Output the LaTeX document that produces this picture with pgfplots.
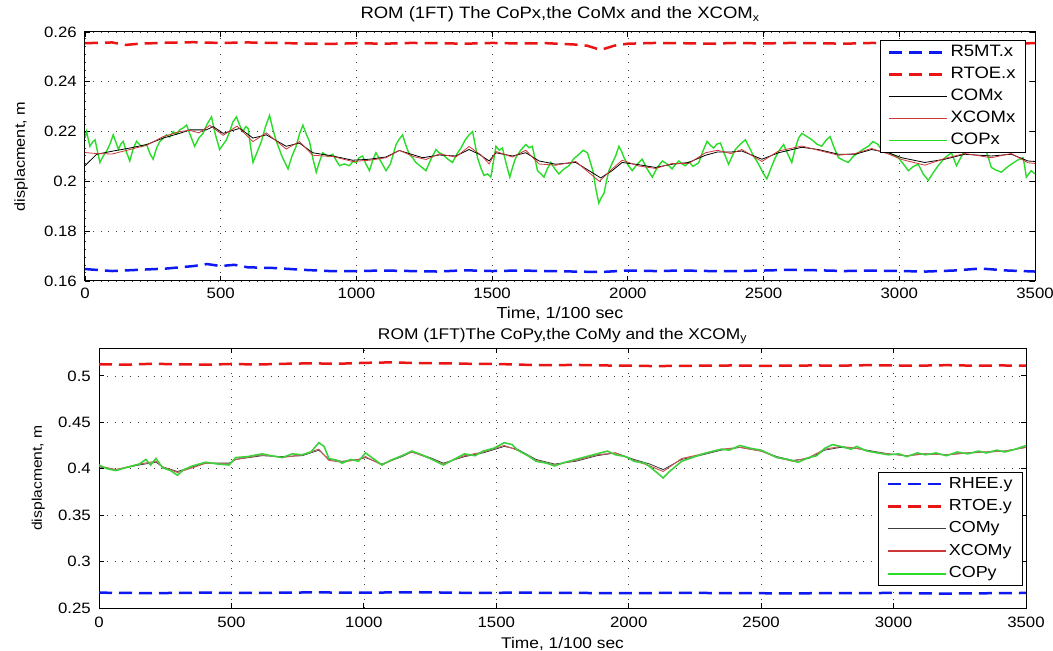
\documentclass[border=0pt]{standalone}
\usepackage{fontspec}
\setmainfont{Liberation Sans}[FakeStretch=1.12]
\usepackage{pgfplots}
\pgfplotsset{compat=1.18}
\definecolor{cRed}{rgb}{0.92,0.08,0.08}
\definecolor{cBlue}{rgb}{0.05,0.1,0.95}
\definecolor{cX}{rgb}{0.80,0.22,0.22}
\definecolor{cG}{RGB}{40,220,40}
\definecolor{cXl}{RGB}{200,90,90}
\definecolor{cGl}{RGB}{60,210,60}
\definecolor{cKl}{RGB}{60,60,60}
\pgfplotsset{
  mystyle/.style={
    scale only axis,
    axis line style={line width=1pt},
    xmin=0, xmax=3500,
    xtick={0,500,...,3500},
    scaled ticks=false,
    /pgf/number format/1000 sep={},
    /pgf/number format/assume math mode=true,
    grid=major,
    grid style={black!75, line width=0.7pt, dash pattern=on 0.8pt off 7pt},
    tick align=inside, tick pos=both,
    major tick length=5pt,
    tick style={black, line width=0.8pt},
    ticklabel style={font=\fontsize{15}{15}\selectfont},
    xticklabel style={anchor=base, inner sep=0pt, yshift=-18pt},
    yticklabel style={anchor=east, inner sep=0pt, xshift=-8pt},
    legend cell align=left,
    legend image code/.code={\draw[##1] (0pt,0pt) -- (58pt,0pt);},
  },
  dsh/.style={line width=2.5pt, dash pattern=on 13pt off 7pt},
}
\begin{document}
\begin{tikzpicture}
\useasboundingbox (0,0) rectangle (1053pt,651pt);
% ---------------- TOP ----------------
\begin{axis}[mystyle,
  at={(85pt,370pt)}, anchor=south west,
  width=950pt, height=249pt,
  ymin=0.16, ymax=0.26,
  ytick={0.16,0.18,...,0.26},
  yticklabel style={/pgf/number format/.cd, fixed, precision=2},
  title={ROM (1FT) The CoPx,the CoMx and the XCOM$_{\mbox{\fontsize{11}{11}\selectfont x}}$},
  title style={font=\fontsize{16.5}{16.5}\selectfont, at={(axis description cs:0.5,1)}, anchor=base, yshift=7pt, inner sep=0pt},
  xlabel={Time, 1/100 sec},
  xlabel style={font=\fontsize{16}{16}\selectfont, at={(axis description cs:0.5,0)}, anchor=base, yshift=-38pt, inner sep=0pt},
  ylabel={displacment, m},
  every axis y label/.style={font=\fontsize{14.5}{14.5}\selectfont, at={(axis description cs:0,0.5)}, rotate=90, anchor=base, yshift=60pt, inner sep=0pt},
  legend style={at={(axis description cs:1,1)}, anchor=north east, xshift=-9pt, yshift=-8pt,
    draw=black, line width=0.8pt, fill=white, inner xsep=8pt, inner ysep=2pt,
    font=\fontsize{16.5}{16.5}\selectfont, row sep=2pt,
    nodes={text height=12pt, text depth=4pt, inner sep=2pt}},
]
\addplot[cBlue, dsh, forget plot] coordinates {
(0,0.1648)(100,0.1640)(200,0.1645)(300,0.1650)(400,0.1660)(450,0.1668)(500,0.1660)(550,0.1665)(600,0.1655)(700,0.1652)(800,0.1645)(900,0.1640)(1000,0.1640)(1100,0.1642)(1200,0.1640)(1300,0.1638)(1400,0.1643)(1500,0.1640)(1600,0.1642)(1700,0.1640)(1800,0.1638)(1900,0.1636)(2000,0.1642)(2100,0.1640)(2200,0.1642)(2300,0.1640)(2400,0.1640)(2500,0.1642)(2600,0.1645)(2700,0.1643)(2800,0.1640)(2900,0.1642)(3000,0.1640)(3100,0.1638)(3200,0.1642)(3300,0.1650)(3400,0.1642)(3500,0.1638)};
\addplot[cRed, dsh, forget plot] coordinates {
(0,0.2555)(100,0.2558)(150,0.2548)(200,0.2553)(300,0.2557)(400,0.2559)(500,0.2556)(600,0.2558)(700,0.2556)(800,0.2554)(900,0.2552)(1000,0.2555)(1100,0.2553)(1200,0.2556)(1300,0.2555)(1400,0.2553)(1500,0.2556)(1600,0.2554)(1700,0.2555)(1800,0.2550)(1850,0.2545)(1900,0.2528)(1950,0.2545)(2000,0.2553)(2100,0.2556)(2200,0.2555)(2300,0.2553)(2400,0.2556)(2500,0.2554)(2600,0.2556)(2700,0.2555)(2800,0.2553)(2900,0.2556)(3000,0.2554)(3100,0.2555)(3200,0.2553)(3300,0.2556)(3400,0.2554)(3500,0.2555)};
\addplot[cG, line width=1.4pt, forget plot] coordinates {
(0,0.2174)(6,0.2200)(12,0.2170)(18,0.2141)(28,0.2158)(37,0.2167)(46,0.2120)(55,0.2076)(66,0.2100)(80,0.2122)(92,0.2150)(104,0.2187)(113,0.2160)(123,0.2128)(132,0.2150)(141,0.2161)(152,0.2120)(165,0.2082)(177,0.2130)(190,0.2161)(208,0.2140)(227,0.2148)(240,0.2110)(251,0.2089)(264,0.2135)(276,0.2161)(288,0.2172)(300,0.2187)(312,0.2178)(325,0.2200)(337,0.2190)(349,0.2207)(362,0.2215)(374,0.2226)(390,0.2180)(404,0.2141)(420,0.2175)(435,0.2193)(450,0.2230)(466,0.2259)(480,0.2190)(496,0.2128)(510,0.2150)(521,0.2167)(533,0.2200)(545,0.2239)(558,0.2259)(570,0.2225)(582,0.2200)(592,0.2220)(601,0.2213)(610,0.2140)(619,0.2076)(635,0.2120)(650,0.2161)(665,0.2220)(680,0.2265)(692,0.2210)(705,0.2161)(726,0.2100)(748,0.2050)(762,0.2100)(778,0.2141)(790,0.2190)(803,0.2226)(815,0.2190)(827,0.2161)(840,0.2090)(852,0.2037)(864,0.2080)(876,0.2115)(895,0.2100)(913,0.2109)(925,0.2085)(938,0.2063)(955,0.2070)(974,0.2063)(987,0.2080)(999,0.2076)(1010,0.2095)(1023,0.2102)(1035,0.2070)(1048,0.2043)(1060,0.2085)(1072,0.2115)(1090,0.2080)(1109,0.2043)(1125,0.2070)(1136,0.2110)(1146,0.2148)(1158,0.2170)(1170,0.2187)(1182,0.2145)(1195,0.2109)(1207,0.2095)(1219,0.2076)(1237,0.2060)(1256,0.2043)(1275,0.2090)(1293,0.2128)(1305,0.2115)(1317,0.2109)(1336,0.2090)(1354,0.2076)(1370,0.2110)(1385,0.2134)(1400,0.2165)(1415,0.2187)(1428,0.2200)(1437,0.2150)(1446,0.2095)(1458,0.2055)(1470,0.2024)(1483,0.2030)(1495,0.2017)(1505,0.2080)(1514,0.2141)(1526,0.2125)(1538,0.2134)(1552,0.2070)(1565,0.2017)(1576,0.2060)(1587,0.2095)(1605,0.2125)(1624,0.2148)(1636,0.2135)(1648,0.2141)(1658,0.2090)(1667,0.2043)(1680,0.2030)(1691,0.2017)(1703,0.2050)(1716,0.2076)(1731,0.2050)(1746,0.2030)(1765,0.2050)(1783,0.2063)(1800,0.2090)(1820,0.2109)(1835,0.2125)(1851,0.2115)(1861,0.2080)(1871,0.2043)(1882,0.1970)(1893,0.1913)(1902,0.1935)(1912,0.1952)(1921,0.2000)(1930,0.2043)(1943,0.2075)(1955,0.2102)(1967,0.2141)(1977,0.2120)(1986,0.2095)(2001,0.2065)(2016,0.2043)(2035,0.2070)(2053,0.2089)(2071,0.2050)(2090,0.2017)(2108,0.2055)(2127,0.2082)(2145,0.2070)(2163,0.2050)(2175,0.2068)(2188,0.2082)(2200,0.2070)(2212,0.2063)(2226,0.2078)(2240,0.2060)(2261,0.2075)(2276,0.2120)(2292,0.2161)(2304,0.2145)(2316,0.2134)(2328,0.2150)(2341,0.2154)(2356,0.2110)(2371,0.2069)(2384,0.2100)(2396,0.2128)(2415,0.2150)(2433,0.2167)(2448,0.2135)(2463,0.2102)(2476,0.2080)(2488,0.2056)(2500,0.2030)(2512,0.2010)(2528,0.2055)(2543,0.2095)(2558,0.2125)(2574,0.2148)(2589,0.2110)(2604,0.2076)(2616,0.2130)(2629,0.2174)(2641,0.2193)(2660,0.2180)(2678,0.2167)(2696,0.2150)(2714,0.2141)(2730,0.2165)(2745,0.2180)(2760,0.2135)(2776,0.2095)(2794,0.2085)(2812,0.2076)(2830,0.2100)(2849,0.2115)(2868,0.2130)(2886,0.2141)(2903,0.2160)(2920,0.2150)(2933,0.2130)(2947,0.2122)(2970,0.2110)(2996,0.2095)(3015,0.2070)(3033,0.2043)(3052,0.2060)(3070,0.2069)(3088,0.2030)(3107,0.2004)(3125,0.2035)(3143,0.2063)(3168,0.2095)(3192,0.2115)(3201,0.2090)(3211,0.2063)(3226,0.2095)(3241,0.2122)(3260,0.2140)(3280,0.2150)(3297,0.2140)(3315,0.2134)(3327,0.2100)(3339,0.2056)(3357,0.2045)(3376,0.2037)(3395,0.2055)(3413,0.2069)(3435,0.2085)(3456,0.2095)(3462,0.2060)(3468,0.2017)(3477,0.2030)(3486,0.2043)(3500,0.2030)};
\addplot[black, line width=0.8pt, forget plot] coordinates {
(0,0.2063)(43,0.2109)(104,0.2122)(165,0.2134)(227,0.2148)(288,0.2174)(349,0.2193)(386,0.2207)(447,0.2207)(472,0.2220)(509,0.2193)(570,0.2213)(619,0.2174)(668,0.2187)(741,0.2141)(790,0.2154)(839,0.2115)(913,0.2102)(986,0.2085)(1048,0.2089)(1109,0.2098)(1158,0.2124)(1244,0.2095)(1305,0.2106)(1366,0.2102)(1415,0.2128)(1452,0.2109)(1489,0.2082)(1514,0.2115)(1575,0.2102)(1624,0.2115)(1673,0.2082)(1734,0.2069)(1808,0.2076)(1857,0.2043)(1900,0.2014)(1942,0.2043)(1979,0.2076)(2040,0.2067)(2102,0.2056)(2163,0.2069)(2224,0.2076)(2286,0.2105)(2330,0.2118)(2380,0.2118)(2420,0.2122)(2494,0.2089)(2555,0.2115)(2641,0.2137)(2702,0.2128)(2776,0.2109)(2837,0.2109)(2898,0.2128)(2960,0.2115)(3009,0.2095)(3094,0.2076)(3168,0.2089)(3241,0.2109)(3339,0.2102)(3413,0.2109)(3474,0.2082)(3500,0.2080)};
\addplot[cX, line width=0.8pt, forget plot] coordinates {
(0,0.2116)(40,0.2112)(100,0.2110)(165,0.2128)(227,0.2145)(288,0.2180)(349,0.2200)(386,0.2205)(420,0.2195)(460,0.2225)(509,0.2185)(560,0.2222)(619,0.2160)(668,0.2195)(741,0.2130)(790,0.2160)(839,0.2105)(913,0.2100)(986,0.2080)(1048,0.2085)(1109,0.2095)(1158,0.2125)(1210,0.2100)(1256,0.2088)(1305,0.2110)(1366,0.2098)(1415,0.2140)(1460,0.2105)(1489,0.2070)(1514,0.2120)(1575,0.2098)(1624,0.2125)(1673,0.2070)(1734,0.2065)(1808,0.2080)(1857,0.2035)(1895,0.2000)(1942,0.2050)(1979,0.2085)(2040,0.2062)(2102,0.2052)(2163,0.2072)(2224,0.2072)(2286,0.2115)(2330,0.2125)(2380,0.2112)(2420,0.2128)(2494,0.2080)(2555,0.2122)(2641,0.2142)(2702,0.2125)(2776,0.2105)(2837,0.2112)(2898,0.2132)(2960,0.2110)(3009,0.2088)(3094,0.2065)(3168,0.2092)(3241,0.2112)(3339,0.2095)(3413,0.2112)(3474,0.2075)(3500,0.2072)};
\addlegendimage{cBlue, dsh}\addlegendentry{R5MT.x}
\addlegendimage{cRed, dsh}\addlegendentry{RTOE.x}
\addlegendimage{black, line width=0.8pt}\addlegendentry{COMx}
\addlegendimage{cX, line width=0.8pt}\addlegendentry{XCOMx}
\addlegendimage{cG, line width=0.8pt}\addlegendentry{COPx}
\end{axis}
% ---------------- BOTTOM ----------------
\begin{axis}[mystyle,
  at={(99pt,43pt)}, anchor=south west,
  width=927pt, height=260pt,
  ymin=0.25, ymax=0.53,
  ytick={0.25,0.3,...,0.5},
  yticklabel style={/pgf/number format/.cd, fixed, precision=2},
  xticklabel style={yshift=-1pt},
  title={ROM (1FT)The CoPy,the CoMy and the XCOM$_{\mbox{\fontsize{11}{11}\selectfont y}}$},
  title style={font=\fontsize{15.5}{15.5}\selectfont, at={(axis description cs:0.5,1)}, anchor=base, yshift=3pt, inner sep=0pt},
  xlabel={Time, 1/100 sec},
  xlabel style={font=\fontsize{15.5}{15.5}\selectfont, at={(axis description cs:0.5,0)}, anchor=base, yshift=-40pt, inner sep=0pt},
  ylabel={displacment, m},
  every axis y label/.style={font=\fontsize{14}{14}\selectfont, at={(axis description cs:0,0.5)}, rotate=90, anchor=base, yshift=57pt, inner sep=0pt},
  legend style={at={(axis description cs:1,0)}, anchor=south east, xshift=-3pt, yshift=22pt,
    draw=black, line width=0.8pt, fill=white, inner xsep=8pt, inner ysep=2pt,
    font=\fontsize{16}{16}\selectfont, row sep=2.4pt,
    nodes={text height=12pt, text depth=4pt, inner sep=2pt}},
]
\addplot[cBlue, dsh, forget plot] coordinates {
(0,0.2665)(200,0.2660)(400,0.2665)(600,0.2662)(800,0.2668)(1000,0.2665)(1200,0.2670)(1400,0.2663)(1600,0.2665)(1800,0.2662)(2000,0.2660)(2200,0.2663)(2400,0.2660)(2600,0.2658)(2800,0.2660)(3000,0.2662)(3200,0.2655)(3400,0.2660)(3500,0.2662)};
\addplot[cRed, dsh, forget plot] coordinates {
(0,0.5125)(100,0.5120)(200,0.5130)(300,0.5125)(400,0.5120)(500,0.5128)(600,0.5122)(700,0.5130)(800,0.5135)(900,0.5130)(1000,0.5140)(1100,0.5145)(1200,0.5138)(1300,0.5135)(1400,0.5130)(1500,0.5128)(1600,0.5120)(1700,0.5115)(1800,0.5118)(1900,0.5112)(2000,0.5110)(2100,0.5105)(2200,0.5108)(2300,0.5110)(2400,0.5112)(2500,0.5108)(2600,0.5110)(2700,0.5112)(2800,0.5110)(2900,0.5115)(3000,0.5112)(3100,0.5110)(3200,0.5115)(3300,0.5110)(3400,0.5112)(3500,0.5110)};
\addplot[cKl, line width=0.8pt, forget plot] coordinates {
(0,0.402)(64,0.399)(152,0.404)(215,0.407)(240,0.402)(296,0.397)(353,0.402)(403,0.406)(491,0.406)(516,0.410)(616,0.414)(692,0.413)(767,0.414)(830,0.420)(868,0.410)(918,0.408)(980,0.410)(1006,0.412)(1068,0.405)(1144,0.413)(1181,0.418)(1250,0.412)(1300,0.406)(1380,0.413)(1450,0.417)(1530,0.424)(1580,0.421)(1650,0.410)(1720,0.405)(1800,0.408)(1880,0.414)(1950,0.417)(2020,0.410)(2080,0.405)(2130,0.399)(2200,0.410)(2280,0.415)(2350,0.420)(2420,0.423)(2500,0.419)(2560,0.413)(2620,0.409)(2680,0.411)(2740,0.420)(2800,0.423)(2860,0.422)(2920,0.419)(2980,0.416)(3050,0.414)(3120,0.416)(3200,0.415)(3280,0.417)(3350,0.418)(3420,0.419)(3500,0.423)};
\addplot[cXl, line width=1pt, forget plot] coordinates {
(0,0.403)(64,0.399)(152,0.405)(215,0.408)(240,0.402)(296,0.396)(353,0.401)(403,0.406)(491,0.405)(516,0.410)(616,0.415)(692,0.412)(767,0.415)(830,0.421)(868,0.409)(918,0.407)(980,0.410)(1006,0.413)(1068,0.404)(1144,0.414)(1181,0.418)(1250,0.411)(1300,0.405)(1380,0.414)(1450,0.418)(1530,0.425)(1580,0.420)(1650,0.409)(1720,0.404)(1800,0.409)(1880,0.415)(1950,0.417)(2020,0.409)(2080,0.403)(2130,0.397)(2200,0.411)(2280,0.416)(2350,0.421)(2420,0.423)(2500,0.419)(2560,0.412)(2620,0.408)(2680,0.412)(2740,0.421)(2800,0.424)(2860,0.422)(2920,0.418)(2980,0.416)(3050,0.414)(3120,0.416)(3200,0.415)(3280,0.417)(3350,0.418)(3420,0.419)(3500,0.423)};
\addplot[cGl, line width=1.6pt, forget plot] coordinates {
(0,0.404)(30,0.400)(64,0.398)(100,0.401)(152,0.405)(177,0.410)(195,0.404)(215,0.411)(240,0.401)(270,0.398)(296,0.393)(320,0.399)(353,0.403)(403,0.407)(450,0.405)(491,0.404)(516,0.412)(560,0.413)(616,0.416)(650,0.414)(692,0.412)(730,0.416)(767,0.415)(800,0.418)(830,0.428)(850,0.424)(868,0.411)(900,0.409)(918,0.406)(950,0.410)(980,0.408)(1006,0.417)(1040,0.410)(1068,0.404)(1100,0.409)(1144,0.414)(1181,0.419)(1220,0.415)(1250,0.411)(1300,0.404)(1340,0.410)(1380,0.416)(1420,0.414)(1450,0.419)(1490,0.422)(1530,0.428)(1560,0.426)(1580,0.420)(1620,0.414)(1650,0.408)(1690,0.406)(1720,0.403)(1760,0.407)(1800,0.410)(1840,0.413)(1880,0.416)(1920,0.419)(1950,0.415)(1990,0.413)(2020,0.408)(2060,0.406)(2080,0.402)(2110,0.395)(2130,0.390)(2150,0.396)(2200,0.408)(2240,0.412)(2280,0.416)(2320,0.419)(2350,0.421)(2380,0.420)(2420,0.425)(2460,0.422)(2500,0.420)(2530,0.416)(2560,0.412)(2600,0.410)(2640,0.407)(2680,0.412)(2710,0.414)(2740,0.422)(2770,0.426)(2800,0.424)(2840,0.421)(2860,0.424)(2900,0.419)(2940,0.417)(2980,0.415)(3020,0.416)(3050,0.413)(3090,0.417)(3120,0.415)(3160,0.417)(3200,0.414)(3240,0.418)(3280,0.416)(3320,0.419)(3350,0.417)(3390,0.420)(3420,0.418)(3460,0.421)(3500,0.425)};
\addlegendimage{cBlue, dsh}\addlegendentry{RHEE.y}
\addlegendimage{cRed, dsh}\addlegendentry{RTOE.y}
\addlegendimage{cKl, line width=1pt}\addlegendentry{COMy}
\addlegendimage{cX, line width=2pt}\addlegendentry{XCOMy}
\addlegendimage{cG, line width=2pt}\addlegendentry{COPy}
\end{axis}
\end{tikzpicture}
\end{document}
